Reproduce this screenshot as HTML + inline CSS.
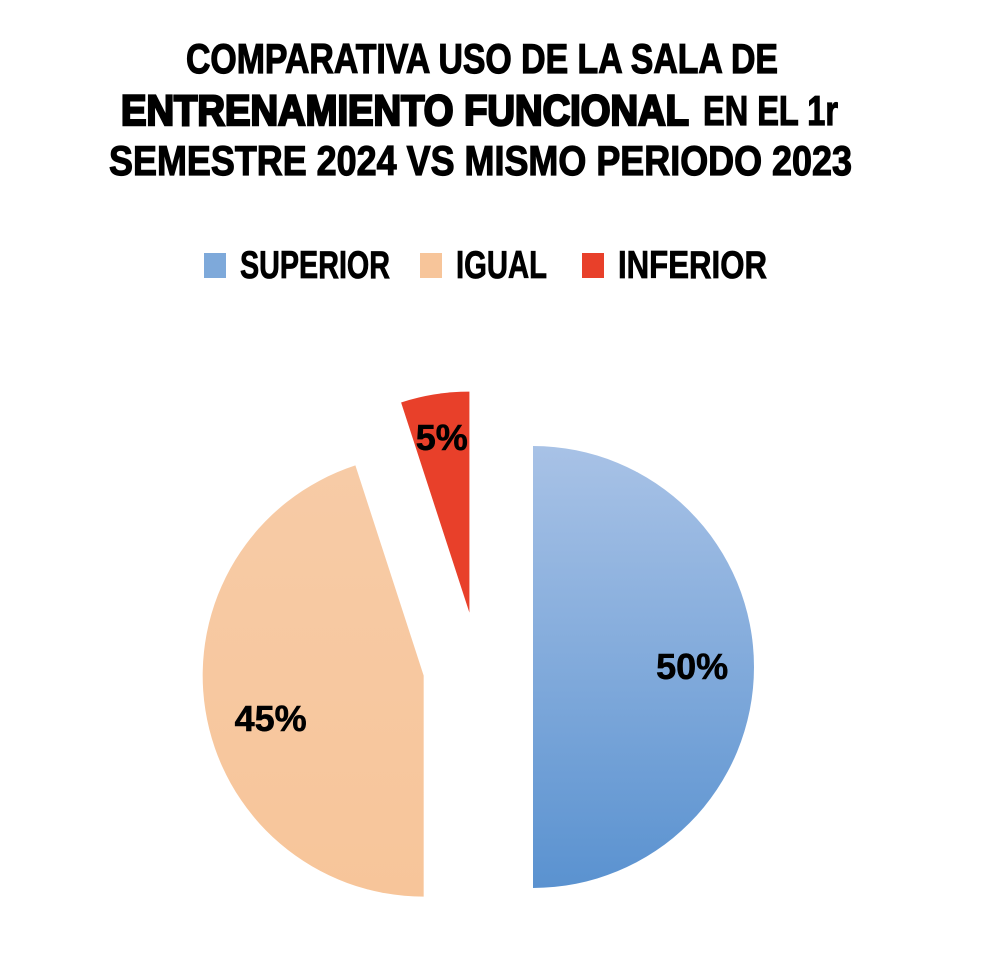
<!DOCTYPE html>
<html><head><meta charset="utf-8"><style>
html,body{margin:0;padding:0;background:#fff}
svg{display:block}
text{font-family:"Liberation Sans Narrow","Liberation Sans",sans-serif;font-weight:bold;fill:#000}
.t{stroke:#000;stroke-width:1.2}
</style></head><body>
<svg width="994" height="972" viewBox="0 0 994 972">
<defs>
<linearGradient id="gBlue" x1="0" y1="0" x2="0" y2="1"><stop offset="0" stop-color="#a8c2e6"/><stop offset="1" stop-color="#5a92d0"/></linearGradient>
<linearGradient id="gOrange" x1="0" y1="0" x2="0" y2="1"><stop offset="0" stop-color="#f7cba6"/><stop offset="1" stop-color="#f7c59a"/></linearGradient>
</defs>
<g>
<text class="t" x="186" y="73" font-size="42" textLength="592" lengthAdjust="spacingAndGlyphs">COMPARATIVA USO DE LA SALA DE</text>
<text x="121" y="125" font-size="43" textLength="568" lengthAdjust="spacingAndGlyphs" style="font-family:'Liberation Sans','DejaVu Sans',sans-serif;font-weight:900;stroke:#000;stroke-width:2.5">ENTRENAMIENTO FUNCIONAL</text>
<text class="t" x="703" y="125" font-size="42" textLength="135" lengthAdjust="spacingAndGlyphs">EN EL 1r</text>
<text class="t" x="109" y="175" font-size="42" textLength="743" lengthAdjust="spacingAndGlyphs">SEMESTRE 2024 VS MISMO PERIODO 2023</text>
</g>
<g id="legend"></g>
<g id="slices"></g>
</svg>
<script>
const categories = ["SUPERIOR","IGUAL","INFERIOR"];
const values = [50,45,5];
const labels = ["50%","45%","5%"];
const colors = ["url(#gBlue)","url(#gOrange)","#e8402a"];
const legendColors = ["#7ea9da","#f7c59a","#e8402a"];
const NS="http://www.w3.org/2000/svg";
const cx=478, cy=667, r=221, explode=55;
const total=values.reduce((a,b)=>a+b,0);
const sl=document.getElementById('slices');
let a0=0;
values.forEach((v,i)=>{
  const a1=a0+v/total*2*Math.PI, mid=(a0+a1)/2;
  const ox=cx+explode*Math.sin(mid), oy=cy-explode*Math.cos(mid);
  const x0=ox+r*Math.sin(a0), y0=oy-r*Math.cos(a0), x1=ox+r*Math.sin(a1), y1=oy-r*Math.cos(a1);
  const p=document.createElementNS(NS,'path');
  p.setAttribute('d',`M${ox},${oy} L${x0},${y0} A${r},${r} 0 ${(a1-a0)>Math.PI?1:0} 1 ${x1},${y1} Z`);
  p.setAttribute('fill',colors[i]);
  
  
  sl.appendChild(p);
  const lr = v<10 ? r*0.8 : r*0.72;
  const lmid = v<10 ? mid : (mid>Math.PI ? mid-0.12 : mid);
  const t=document.createElementNS(NS,'text');
  t.setAttribute('x',ox+lr*Math.sin(lmid)); t.setAttribute('y',oy-lr*Math.cos(lmid)+12);
  t.setAttribute('text-anchor','middle'); t.setAttribute('font-size','36');
  t.setAttribute('class','t');
  t.setAttribute('style','stroke-width:0.6');
  t.textContent=labels[i];
  
  
  sl.appendChild(t);
  a0=a1;
});
const lg=document.getElementById('legend');
const lx=[204,420,582], tw=[150,91,149];
categories.forEach((c,i)=>{
  const g=document.createElementNS(NS,'g');
  
  
  const s=document.createElementNS(NS,'rect');
  s.setAttribute('x',lx[i]); s.setAttribute('y',253); s.setAttribute('width',22); s.setAttribute('height',25);
  s.setAttribute('fill',legendColors[i]);
  const t=document.createElementNS(NS,'text');
  t.setAttribute('x',lx[i]+36); t.setAttribute('y',278); t.setAttribute('font-size','39');
  t.setAttribute('class','t');
  t.setAttribute('style','stroke-width:0.8');
  t.setAttribute('textLength',tw[i]); t.setAttribute('lengthAdjust','spacingAndGlyphs');
  t.textContent=c;
  g.appendChild(s); g.appendChild(t); lg.appendChild(g);
});
</script>
</body></html>
